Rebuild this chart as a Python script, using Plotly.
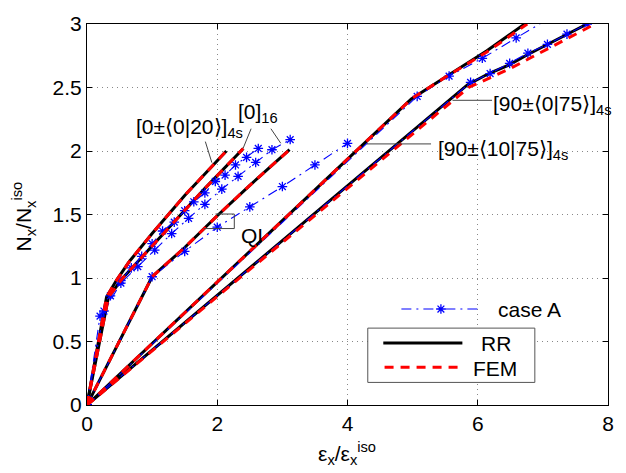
import plotly.graph_objects as go

# ---------------- data ----------------
# [0±<0|20>]4s
rr_a_x = [0, 0.30, 0.45, 0.65, 1.0, 1.5, 2.14]
rr_a_y = [0, 0.85, 0.98, 1.13, 1.35, 1.65, 2.0]
ca_a_x = [0, 0.20, 0.36, 0.52, 0.68, 0.84, 1.0, 1.16, 1.34, 1.50, 1.64, 1.81, 1.97, 2.12, 2.28, 2.45, 2.63]
ca_a_y = [0, 0.70, 0.86, 0.98, 1.08, 1.17, 1.27, 1.37, 1.44, 1.53, 1.60, 1.67, 1.76, 1.81, 1.89, 1.95, 2.02]
# [0]16
rr_b_x = [0, 0.33, 0.55, 0.85, 1.3, 1.8, 2.40]
rr_b_y = [0, 0.85, 1.00, 1.17, 1.42, 1.70, 2.02]
ca_b_x = [0, 0.26, 0.52, 0.78, 1.04, 1.30, 1.56, 1.81, 2.07, 2.32, 2.59, 2.84, 3.12]
ca_b_y = [0, 0.74, 0.96, 1.09, 1.22, 1.35, 1.47, 1.58, 1.70, 1.80, 1.91, 2.01, 2.09]
# QI
rr_qi_x = [0, 1.0, 1.5, 2.0, 2.5, 3.11]
rr_qi_y = [0, 1.01, 1.24, 1.49, 1.73, 2.01]
ca_qi_x = [0, 1.0, 1.5, 2.0, 2.5, 3.0, 3.5, 4.0]
ca_qi_y = [0, 1.01, 1.21, 1.40, 1.56, 1.72, 1.89, 2.06]
# [90±<10|75>]4s
rr_c_x = [0, 4.98, 5.5, 6.14, 6.72]
rr_c_y = [0, 2.41, 2.58, 2.79, 3.0]
fem_c_x = [0, 4.98, 5.5, 6.14, 6.76]
fem_c_y = [0, 2.41, 2.58, 2.78, 3.0]
ca_c_x = [0, 5.07, 5.56, 6.07, 6.59, 7.08]
ca_c_y = [0, 2.43, 2.59, 2.73, 2.89, 3.04]
# [90±<0|75>]4s
rr_d_x = [0, 5.84, 6.17, 6.49, 6.77, 7.08, 7.38, 7.68]
rr_d_y = [0, 2.52, 2.61, 2.68, 2.76, 2.84, 2.92, 3.0]
fem_d_x = [0, 5.86, 6.5, 7.1, 7.8]
fem_d_y = [0, 2.50, 2.65, 2.81, 3.0]
ca_d_x = [0, 5.89, 6.19, 6.49, 6.77, 7.07, 7.37, 7.68]
ca_d_y = [0, 2.54, 2.61, 2.69, 2.77, 2.84, 2.92, 3.0]

x_ticks = [0, 2, 4, 6, 8]
y_ticks = [0, 0.5, 1, 1.5, 2, 2.5, 3]
y_tick_text = ["0", "0.5", "1", "1.5", "2", "2.5", "3"]

FONT = "Liberation Sans, Arial, Helvetica, sans-serif"
FS = 21
BLACK, RED, BLUE = "#000000", "#ff0000", "#0000ff"

rr_curves = [(rr_a_x, rr_a_y), (rr_b_x, rr_b_y), (rr_qi_x, rr_qi_y), (rr_c_x, rr_c_y), (rr_d_x, rr_d_y)]
fem_curves = [(rr_a_x, rr_a_y), (rr_b_x, rr_b_y), (rr_qi_x, rr_qi_y), (fem_c_x, fem_c_y), (fem_d_x, fem_d_y)]
ca_curves = [(ca_a_x, ca_a_y), (ca_b_x, ca_b_y), (ca_qi_x, ca_qi_y), (ca_c_x, ca_c_y), (ca_d_x, ca_d_y)]

STAR = dict(symbol="asterisk-open", size=8, color=BLUE, line=dict(color=BLUE, width=1.3))
DASHDOT = "10px,5px,2px,5px"

fig = go.Figure()
for x, y in rr_curves:
    fig.add_trace(go.Scatter(x=x, y=y, mode="lines", line=dict(color=BLACK, width=3),
                             showlegend=False, hoverinfo="skip"))
for x, y in ca_curves:
    fig.add_trace(go.Scatter(x=x, y=y, mode="lines+markers",
                             line=dict(color=BLUE, width=1.1, dash=DASHDOT),
                             marker=STAR, showlegend=False, hoverinfo="skip"))
for x, y in fem_curves:
    fig.add_trace(go.Scatter(x=x, y=y, mode="lines", line=dict(color=RED, width=3, dash="9px,7px"),
                             showlegend=False, hoverinfo="skip"))

# legend star (pixel-coordinate overlay axes)
fig.add_trace(go.Scatter(x=[445], y=[306], xaxis="x2", yaxis="y2", mode="markers",
                         marker=STAR, showlegend=False, hoverinfo="skip"))

shapes = []
def seg(x0, y0, x1, y1, color="#444444", width=1, dash="solid"):
    shapes.append(dict(type="line", xref="x2", yref="y2", x0=x0, y0=y0, x1=x1, y1=y1,
                       line=dict(color=color, width=width, dash=dash)))

# leader lines
seg(253, 120, 245, 140)
seg(273, 120, 283, 135)
seg(206.7, 133.3, 213.3, 155)
seg(217, 208, 236, 208); seg(236, 208, 236, 223); seg(236, 223, 205, 223)
seg(456.7, 90.7, 496.7, 90.7)
seg(370, 135.7, 435, 135.7)

# legend box and samples
shapes.append(dict(type="rect", xref="x2", yref="y2", x0=371, y0=325.7, x1=540, y1=381.7,
                   line=dict(color="#555555", width=1), fillcolor="white"))
seg(405, 306, 485, 306, color=BLUE, width=1.1, dash=DASHDOT)
seg(386.7, 341, 466.7, 341, color=BLACK, width=3)
seg(388, 366, 466, 366, color=RED, width=3, dash="9px,7px")

ann = []
def txt(x, y, s, xanchor="left", yanchor="middle"):
    ann.append(dict(x=x, y=y, xref="x2", yref="y2", text=s, showarrow=False,
                    xanchor=xanchor, yanchor=yanchor, font=dict(family=FONT, size=FS, color=BLACK)))

txt(135, 119, "[0±⟨0|20⟩]<sub>4s</sub>")
txt(238, 104, "[0]<sub>16</sub>")
txt(241, 230, "QI")
txt(496, 96, "[90±⟨0|75⟩]<sub>4s</sub>")
txt(440, 142, "[90±⟨10|75⟩]<sub>4s</sub>")
txt(501, 306, "case A")
txt(484, 342, "RR")
txt(475, 367, "FEM")

# axis titles (paper coordinates)
ann.append(dict(x=0.499, y=-0.127, xref="paper", yref="paper",
                text="ε<sub>x</sub>/ε<sub>x</sub><sup>iso</sup>",
                showarrow=False, xanchor="center", yanchor="middle",
                font=dict(family=FONT, size=FS, color=BLACK)))
ann.append(dict(x=-0.122, y=0.496, xref="paper", yref="paper",
                text="N<sub>x</sub>/N<sub>x</sub><sup>iso</sup>",
                showarrow=False, xanchor="center", yanchor="middle", textangle=-90,
                font=dict(family=FONT, size=FS, color=BLACK)))

GRID = dict(showgrid=True, gridcolor="#888888", gridwidth=1, griddash="1px,4px")

fig.update_layout(
    width=626, height=473,
    margin=dict(l=87, r=12, t=12, b=68),
    paper_bgcolor="white", plot_bgcolor="white",
    shapes=shapes, annotations=ann,
    xaxis=dict(range=[0, 8], tickvals=x_ticks, ticks="inside", ticklen=5, tickcolor=BLACK,
               showline=True, linecolor=BLACK, linewidth=1, mirror="allticks",
               zeroline=False, tickfont=dict(family=FONT, size=FS, color=BLACK), **GRID),
    yaxis=dict(range=[0, 3], tickvals=y_ticks, ticktext=y_tick_text, ticks="inside", ticklen=5,
               tickcolor=BLACK, showline=True, linecolor=BLACK, linewidth=1, mirror="allticks",
               zeroline=False, tickfont=dict(family=FONT, size=FS, color=BLACK), **GRID),
    xaxis2=dict(overlaying="x", range=[87, 614], visible=False, fixedrange=True),
    yaxis2=dict(overlaying="y", range=[405, 12], visible=False, fixedrange=True),
)

fig.write_html("out.html")
